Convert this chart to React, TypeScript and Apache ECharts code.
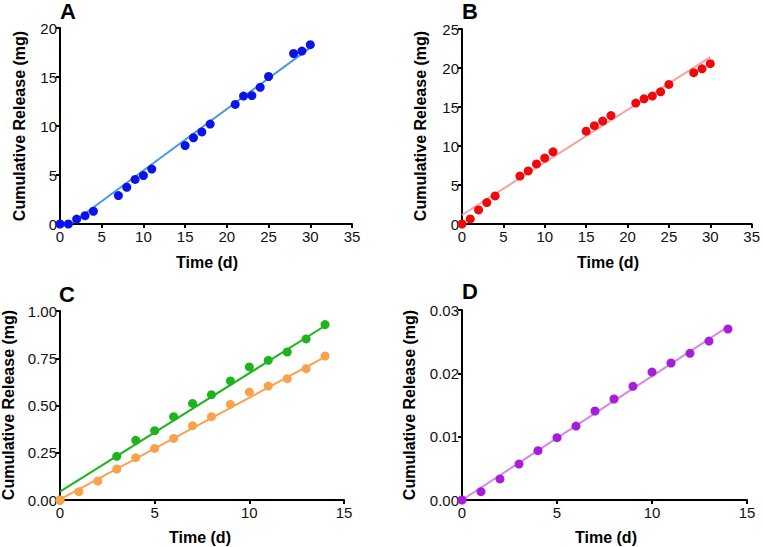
import React, { useEffect, useRef } from "react";
import * as echarts from "echarts";

// Panel A (blue)
const daysAB = [0, 1, 2, 3, 4, 7, 8, 9, 10, 11, 15, 16, 17, 18, 21, 22, 23, 24, 25, 28, 29, 30];
const releaseA = [0, 0, 0.5, 0.85, 1.3, 2.9, 3.75, 4.55, 4.95, 5.6, 8.0, 8.8, 9.4, 10.2, 12.2, 13.05, 13.1, 13.95, 15.05, 17.4, 17.65, 18.3];
const fitA = [[1.3, 0], [30, 18.0]];
// Panel B (red)
const releaseB = [0, 0.65, 1.8, 2.75, 3.6, 6.15, 6.8, 7.7, 8.45, 9.25, 11.9, 12.6, 13.2, 13.9, 15.5, 16.05, 16.4, 16.95, 17.9, 19.4, 19.9, 20.55];
const fitB = [[0, 1.15], [30, 21.4]];
// Panel C (green + orange)
const daysCGreen = [0, 3, 4, 5, 6, 7, 8, 9, 10, 11, 12, 13, 14];
const releaseCGreen = [0, 0.231, 0.316, 0.367, 0.441, 0.511, 0.557, 0.63, 0.704, 0.739, 0.783, 0.852, 0.928];
const fitCGreen = [[0, 0.044], [14, 0.922]];
const daysCOrange = [0, 1, 2, 3, 4, 5, 6, 7, 8, 9, 10, 11, 12, 13, 14];
const releaseCOrange = [0, 0.044, 0.1, 0.164, 0.224, 0.273, 0.326, 0.393, 0.441, 0.506, 0.571, 0.603, 0.642, 0.695, 0.762];
const fitCOrange = [[0, 0.003], [14, 0.757]];
// Panel D (purple)
const daysD = [0, 1, 2, 3, 4, 5, 6, 7, 8, 9, 10, 11, 12, 13, 14];
const releaseD = [0, 0.00132, 0.00332, 0.00568, 0.00779, 0.00984, 0.01168, 0.01405, 0.01595, 0.01795, 0.0202, 0.02163, 0.02316, 0.0251, 0.027];
const fitD = [[0, 0], [14, 0.02737]];

const xTitle = "Time (d)";
const yTitle = "Cumulative Release (mg)";

const zip = (xs: number[], ys: number[]) => xs.map((x, i) => [x, ys[i]]);

export default function App() {
  const ref = useRef<HTMLDivElement>(null);
  useEffect(() => {
    if (!ref.current) return;
    const chart = echarts.init(ref.current, undefined, { renderer: "svg" });
    const font = "Liberation Sans, Arial, sans-serif";
    const grids = [
      { left: 60, top: 28, width: 292, height: 196 },
      { left: 462, top: 29, width: 294, height: 195 },
      { left: 60, top: 311, width: 284, height: 189 },
      { left: 462, top: 310, width: 285, height: 190 },
    ];
    const axisLine = { show: true, lineStyle: { color: "#000", width: 2 } };
    const axisTick = { show: true, length: 4, lineStyle: { color: "#000", width: 2 } };
    const xAxes = [35, 35, 15, 15].map((max, i) => ({
      type: "value",
      gridIndex: i,
      min: 0,
      max,
      interval: 5,
      axisLine,
      axisTick,
      splitLine: { show: false },
      axisLabel: { color: "#111", fontSize: 15, fontFamily: font, margin: 5 },
    }));
    const yCfg = [
      { max: 20, interval: 5, dec: 0 },
      { max: 25, interval: 5, dec: 0 },
      { max: 1, interval: 0.25, dec: 2 },
      { max: 0.03, interval: 0.01, dec: 2 },
    ];
    const yAxes = yCfg.map((c, i) => ({
      type: "value",
      gridIndex: i,
      min: 0,
      max: c.max,
      interval: c.interval,
      axisLine,
      axisTick,
      splitLine: { show: false },
      axisLabel: {
        color: "#111",
        fontSize: 15,
        fontFamily: font,
        margin: 3,
        formatter: (v: number) => v.toFixed(c.dec),
      },
    }));
    const scatter = (idx: number, data: number[][], color: string) => ({
      type: "scatter",
      xAxisIndex: idx,
      yAxisIndex: idx,
      data,
      symbol: "circle",
      symbolSize: 9,
      itemStyle: { color, opacity: 1 },
      clip: false,
      z: 3,
    });
    const fit = (idx: number, data: number[][], color: string) => ({
      type: "line",
      xAxisIndex: idx,
      yAxisIndex: idx,
      data,
      showSymbol: false,
      symbol: "none",
      lineStyle: { color, width: 2 },
      clip: false,
      z: 2,
    });
    const title = (text: string, x: number, y: number, rot = 0) => ({
      type: "text",
      x,
      y,
      rotation: rot,
      style: {
        text,
        font: `bold 16px ${font}`,
        fill: "#000",
        align: "center",
        verticalAlign: "middle",
      },
    });
    const letter = (text: string, x: number, y: number) => ({
      type: "text",
      x,
      y,
      style: { text, font: `bold 22px ${font}`, fill: "#000", align: "left", verticalAlign: "middle" },
    });
    chart.setOption({
      animation: false,
      backgroundColor: "#fff",
      grid: grids,
      xAxis: xAxes,
      yAxis: yAxes,
      series: [
        fit(0, fitA, "#4a97e6"),
        scatter(0, zip(daysAB, releaseA), "#0a14e8"),
        fit(1, fitB, "#f5a3a3"),
        scatter(1, zip(daysAB, releaseB), "#ee0a0a"),
        fit(2, fitCGreen, "#1db41d"),
        scatter(2, zip(daysCGreen, releaseCGreen), "#1db41d"),
        fit(2, fitCOrange, "#f8a24e"),
        scatter(2, zip(daysCOrange, releaseCOrange), "#f8a24e"),
        fit(3, fitD, "#d58ae8"),
        scatter(3, zip(daysD, releaseD), "#a81ed6"),
      ],
      graphic: [
        letter("A", 60, 11),
        letter("B", 462, 11),
        letter("C", 59, 294),
        letter("D", 462, 291),
        title(xTitle, 207, 262),
        title(xTitle, 608, 262),
        title(xTitle, 200, 537),
        title(xTitle, 606, 537),
        title(yTitle, 19, 126, Math.PI / 2),
        title(yTitle, 420, 126, Math.PI / 2),
        title(yTitle, 8, 405, Math.PI / 2),
        title(yTitle, 409, 405, Math.PI / 2),
      ],
    });
    return () => chart.dispose();
  }, []);
  return <div ref={ref} style={{ width: 763, height: 547, position: "absolute", left: 0, top: 0 }} />;
}
